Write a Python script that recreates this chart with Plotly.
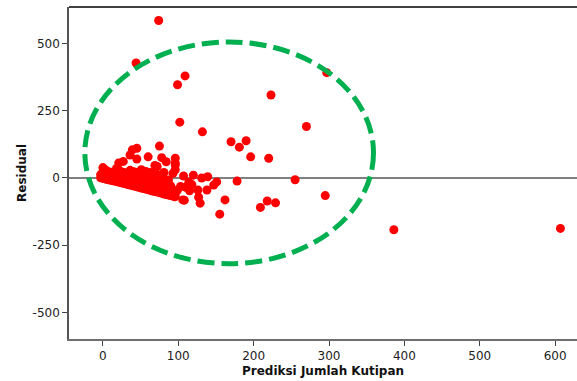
import plotly.graph_objects as go

# Dense wedge of low-prediction papers (predicted citations vs residual)
cluster_pred = [
    -3, -3,
    0, 0, 0, 0,
    3, 3, 3, 3,
    6, 6, 6, 6,
    9, 9, 9, 9,
    12, 12, 12, 12,
    15, 15, 15, 15,
    18, 18, 18, 18, 18,
    21, 21, 21, 21, 21,
    24, 24, 24, 24, 24,
    27, 27, 27, 27, 27, 27,
    30, 30, 30, 30, 30,
    33, 33, 33, 33, 33,
    36, 36, 36, 36, 36, 36, 36,
    39, 39, 39, 39, 39, 39, 39,
    42, 42, 42, 42, 42, 42,
    45, 45, 45, 45, 45, 45, 45, 45,
    48, 48, 48, 48, 48, 48,
    51, 51, 51, 51, 51, 51, 51,
    54, 54, 54, 54, 54, 54,
    57, 57, 57, 57, 57, 57, 57,
    60, 60, 60, 60, 60, 60, 60,
    63, 63, 63, 63, 63, 63, 63,
    66, 66, 66, 66, 66, 66, 66,
    69, 69, 69, 69, 69, 69, 69,
    72, 72, 72, 72, 72, 72, 72, 72,
    75, 75, 75, 75, 75, 75, 75, 75,
    78, 78, 78, 78, 78, 78, 78, 78,
    81, 81, 81, 81, 81, 81, 81,
    84, 84, 84, 84, 84, 84,
    87, 87, 87, 87, 87, 87,
    90, 90, 90, 90,
    93, 93, 93, 93,
    96, 96, 96, 96, 96, 96,
]
cluster_resid = [
    0, 12,
    -2, 8, 20, 38,
    -4, 5, 15, 30,
    -6, 2, 12, 24,
    -8, 0, 10, 22,
    -10, -2, 8, 18,
    -12, -4, 6, 16,
    -14, -5, 5, 15, 35,
    -16, -6, 4, 14, 55,
    -18, -8, 2, 12, 24,
    -20, -10, 0, 10, 20, 61,
    -22, -12, -2, 8, 18,
    -25, -14, -4, 6, 16,
    -27, -16, -6, 4, 14, 28, 85,
    -29, -18, -8, 2, 12, 24, 104,
    -31, -20, -10, 0, 10, 22,
    -33, -22, -12, -2, 8, 18, 70, 110,
    -35, -24, -14, -4, 6, 16,
    -38, -27, -16, -6, 4, 14, 30,
    -40, -29, -18, -8, 2, 12,
    -42, -31, -20, -10, 0, 10, 24,
    -44, -33, -22, -12, -2, 8, 78,
    -46, -35, -24, -14, -4, 6, 20,
    -49, -38, -27, -16, -6, 4, 14,
    -51, -40, -29, -18, -8, 2, 46,
    -53, -42, -31, -20, -10, 0, 12, 42,
    -55, -44, -33, -22, -12, -2, 10, 118,
    -57, -46, -35, -24, -14, -4, 8, 75,
    -60, -48, -36, -26, -16, -6, 20,
    -62, -50, -38, -28, -18, 60,
    -64, -52, -40, -30, -20, -8,
    -66, -54, -42, -30,
    -68, -56, -44, 17,
    -70, -58, 73, 55, 48, 30,
]

# Scattered points and outliers at higher predictions
sparse_pred = [
    74, 44, 99, 109, 102, 132, 223, 270, 297,
    170, 181, 190, 196, 220,
    99, 95, 103, 106, 107, 108, 110, 114, 115, 118, 120,
    126, 127, 129, 131, 138, 139, 147, 151,
    155, 162, 178, 209, 218, 229, 255, 295,
    386, 607,
]
sparse_resid = [
    585, 427, 346, 379, 207, 171, 308, 191, 391,
    134, 114, 138, 78, 73,
    -45, -70, -32, -82, 7, -83, -35, -16, -48, -25, 10,
    -45, -72, -94, -1, -45, 4, -27, -15,
    -135, -82, -12, -110, -86, -93, -7, -66,
    -193, -188,
]

x_ticks = [0, 100, 200, 300, 400, 500, 600]
y_ticks = [-500, -250, 0, 250, 500]
y_tick_labels = ["-500", "-250", "0", "250", "500"]

pred = cluster_pred + sparse_pred
resid = cluster_resid + sparse_resid

fig = go.Figure()
fig.add_trace(go.Scatter(
    x=pred, y=resid, mode="markers",
    marker=dict(color="#ff0000", size=9, line=dict(width=0)),
    showlegend=False, hoverinfo="x+y",
))

# Dashed ellipse around the main group of points
fig.add_shape(
    type="circle", xref="x", yref="y",
    x0=-24, x1=359, y0=-319, y1=505,
    line=dict(color="#00b050", width=5, dash="17px,7px"),
    layer="above",
)
# Top frame line
fig.add_shape(
    type="line", xref="paper", yref="paper",
    x0=0, x1=1, y0=1, y1=1,
    line=dict(color="#000000", width=1.5),
)

font_family = "DejaVu Sans"
fig.update_layout(
    width=577, height=381,
    margin=dict(l=69, r=0, t=7, b=42, autoexpand=False),
    paper_bgcolor="white", plot_bgcolor="white",
    font=dict(family=font_family, size=12, color="#222222"),
    xaxis=dict(
        range=[-45, 629], tickvals=x_ticks,
        showgrid=False, zeroline=False,
        showline=True, linecolor="#6e6e6e", linewidth=1.5,
        ticks="outside", ticklen=5, tickcolor="#444444", tickwidth=1,
        tickfont=dict(size=12, color="#222222"),
        title=dict(text="<b>Prediksi Jumlah Kutipan</b>", standoff=4,
                   font=dict(size=12, color="#111111")),
    ),
    yaxis=dict(
        range=[-599, 635], tickvals=y_ticks, ticktext=y_tick_labels,
        showgrid=False,
        zeroline=True, zerolinecolor="#808080", zerolinewidth=1.5,
        showline=True, linecolor="#555555", linewidth=1.5,
        ticks="outside", ticklen=5, tickcolor="#444444", tickwidth=1,
        tickfont=dict(size=12, color="#222222"),
        title=dict(text="<b>Residual</b>", standoff=3,
                   font=dict(size=12, color="#111111")),
    ),
)

fig.write_html("out.html")
